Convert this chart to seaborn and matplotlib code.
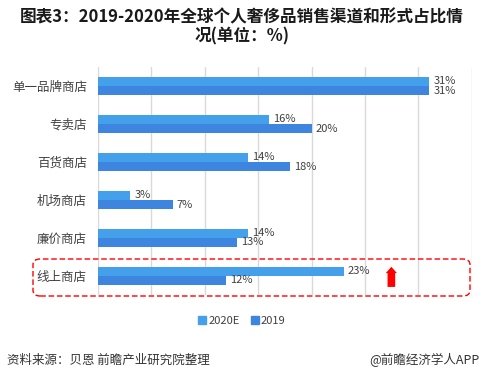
import numpy as np
import pandas as pd
import matplotlib
matplotlib.use('Agg')
import matplotlib.pyplot as plt
import seaborn as sns
from matplotlib.patches import FancyBboxPatch, Patch

# data
channels = ['单一品牌商店', '专卖店', '百货商店', '机场商店', '廉价商店', '线上商店']
share_2020e = [31, 16, 14, 3, 14, 23]
share_2019 = [31, 20, 18, 7, 13, 12]
series = ['2020E', '2019']
colors = ['#45A0EC', '#3E85DF']

df = pd.DataFrame({
    'channel': channels * 2,
    'share': share_2020e + share_2019,
    'series': ['2020E'] * len(channels) + ['2019'] * len(channels),
})

sns.set_style('white')
plt.rcParams['font.family'] = ['Noto Sans CJK SC', 'DejaVu Sans']

fig = plt.figure(figsize=(4.84, 3.81), dpi=100)
ax = fig.add_axes([0.2025, 0.226, 0.7725, 0.598])

sns.barplot(data=df, y='channel', x='share', hue='series', hue_order=series,
            order=channels, palette=colors, orient='h', width=0.48,
            saturation=1, linewidth=0, ax=ax, legend=False)

for cont in ax.containers:
    ax.bar_label(cont, fmt='%d%%', padding=3, fontsize=8, color='#404040')

ax.set_xlim(0, 35)
ax.set_xticks(np.arange(0, 36, 5))
ax.set_xticklabels([])
ax.tick_params(axis='x', length=0)
ax.tick_params(axis='y', length=0, labelsize=9, labelcolor='#404040', pad=8)
ax.grid(axis='x', color='#D9D9D9', lw=1)
ax.set_axisbelow(True)
for s in ax.spines.values():
    s.set_visible(False)
ax.set_xlabel('')
ax.set_ylabel('')

# title
fig.text(0.5, 0.955, '图表3：2019-2020年全球个人奢侈品销售渠道和形式占比情',
         ha='center', va='center', fontsize=12, fontweight='bold', color='#1a1a1a')
fig.text(0.5, 0.903, '况(单位：%)', ha='center', va='center',
         fontsize=12, fontweight='bold', color='#1a1a1a')

# highlight box around online stores
box = FancyBboxPatch((33 / 484, 1 - 296 / 381), (470 - 33) / 484, 37 / 381,
                     boxstyle='round,pad=0,rounding_size=0.015',
                     transform=fig.transFigure, fill=False,
                     edgecolor='#FF0000', lw=1, ls=(0, (4, 2)), clip_on=False)
fig.add_artist(box)

ax.annotate('', xy=(27.46, 4.76), xytext=(27.46, 5.29),
            arrowprops=dict(arrowstyle='simple,head_width=0.8,head_length=0.45,tail_width=0.55',
                            mutation_scale=10, color='#FF0000', lw=0,
                            shrinkA=0, shrinkB=0))

# legend
handles = [Patch(color=c, label=l) for c, l in zip(colors, series)]
fig.legend(handles=handles, loc='center', bbox_to_anchor=(0.5, 0.157), ncol=2,
           frameon=False, fontsize=8, handlelength=0.7, handleheight=0.7,
           handletextpad=0.2, columnspacing=1.0, labelcolor='#404040')

fig.text(0.015, 0.055, '资料来源：贝恩 前瞻产业研究院整理', ha='left', va='center',
         fontsize=9, color='#333333')
fig.text(0.99, 0.055, '@前瞻经济学人APP', ha='right', va='center',
         fontsize=9, color='#333333')

fig.savefig('out.png', dpi=100)
